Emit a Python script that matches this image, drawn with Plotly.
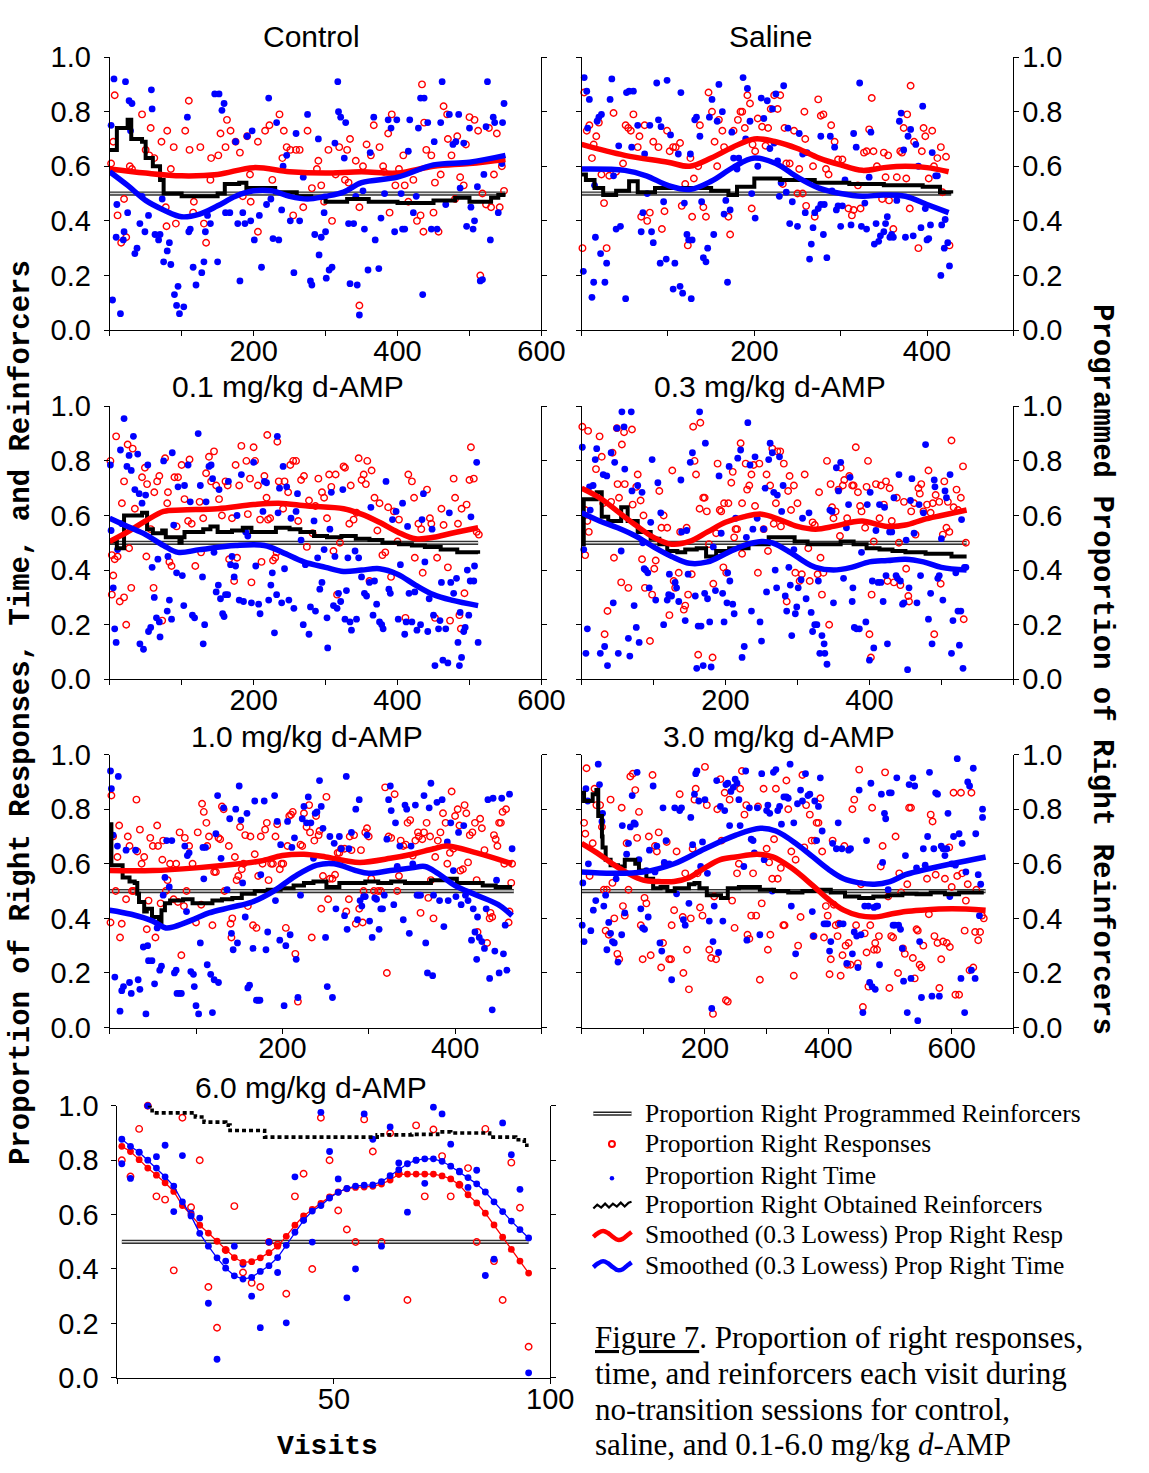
import plotly.graph_objects as go

# ======================= DATA =======================
# ---- Control ----
ctrl_resp_x = [2, 7, 5, 11, 16, 23, 20, 28, 31, 45,
    50, 57, 55, 62, 72, 80, 78, 79, 85, 89,
    92, 105, 110, 111, 116, 117, 126, 131, 134, 141,
    151, 154, 161, 163, 168, 175, 181, 185, 191, 196,
    206, 206, 216, 222, 226, 236, 242, 246, 251, 255,
    259, 264, 269, 275, 281, 288, 294, 298, 304, 309,
    314, 319, 327, 332, 334, 342, 347, 347, 352, 357,
    363, 367, 375, 381, 387, 389, 392, 397, 402, 408,
    415, 422, 427, 432, 434, 436, 437, 440, 447, 450,
    452, 457, 460, 464, 469, 475, 480, 483, 487, 492,
    500, 507, 512, 515, 518, 523, 527, 530, 534, 538,
    542, 548, 140, 195, 240, 290, 330, 380, 410, 470,
    495, 545]
ctrl_resp_y = [0.61, 0.86, 0.69, 0.42, 0.32, 0.34, 0.48, 0.60, 0.59, 0.79,
    0.66, 0.74, 0.64, 0.63, 0.69, 0.73, 0.45, 0.38, 0.59, 0.67,
    0.39, 0.73, 0.84, 0.66, 0.43, 0.47, 0.67, 0.39, 0.32, 0.63,
    0.64, 0.72, 0.67, 0.77, 0.73, 0.69, 0.65, 0.49, 0.71, 0.47,
    0.36, 0.69, 0.73, 0.75, 0.55, 0.79, 0.73, 0.67, 0.66, 0.42,
    0.66, 0.66, 0.45, 0.73, 0.52, 0.59, 0.53, 0.47, 0.66, 0.40,
    0.57, 0.67, 0.55, 0.54, 0.70, 0.62, 0.45, 0.09, 0.60, 0.68,
    0.64, 0.75, 0.67, 0.58, 0.72, 0.43, 0.79, 0.53, 0.59, 0.64,
    0.47, 0.55, 0.40, 0.42, 0.90, 0.36, 0.76, 0.66, 0.64, 0.43,
    0.54, 0.36, 0.57, 0.82, 0.79, 0.64, 0.48, 0.71, 0.56, 0.53,
    0.78, 0.77, 0.73, 0.20, 0.50, 0.46, 0.74, 0.45, 0.57, 0.72,
    0.45, 0.51, 0.55, 0.57, 0.63, 0.62, 0.66, 0.60, 0.53, 0.70,
    0.68, 0.60]
ctrl_time_x = [2, 4, 6, 9, 10, 15, 19, 20, 22, 25,
    27, 29, 31, 35, 38, 42, 45, 49, 54, 58,
    59, 63, 68, 70, 73, 75, 80, 83, 85, 90,
    93, 95, 97, 103, 108, 110, 112, 116, 120, 128,
    131, 133, 136, 140, 146, 150, 152, 156, 159, 161,
    167, 175, 178, 181, 185, 188, 191, 196, 198, 201,
    208, 211, 218, 221, 224, 227, 232, 235, 239, 241,
    246, 251, 256, 259, 264, 269, 275, 279, 281, 285,
    290, 291, 294, 298, 300, 301, 305, 309, 313, 317,
    318, 321, 326, 328, 332, 334, 339, 342, 344, 347,
    352, 354, 359, 362, 367, 369, 374, 377, 382, 387,
    391, 396, 399, 405, 407, 410, 415, 417, 422, 426,
    429, 432, 435, 437, 442, 447, 451, 455, 460, 462,
    467, 472, 477, 481, 485, 487, 492, 496, 500, 502,
    505, 507, 511, 515, 518, 520, 523, 525, 529, 533,
    535, 540, 545, 548, 546]
ctrl_time_y = [0.75, 0.11, 0.92, 0.34, 0.46, 0.06, 0.33, 0.36, 0.91, 0.43,
    0.84, 0.73, 0.83, 0.28, 0.30, 0.39, 0.49, 0.36, 0.42, 0.88,
    0.81, 0.35, 0.33, 0.35, 0.48, 0.25, 0.29, 0.32, 0.24, 0.13,
    0.09, 0.16, 0.06, 0.085, 0.78, 0.36, 0.37, 0.23, 0.165, 0.21,
    0.25, 0.36, 0.42, 0.39, 0.865, 0.25, 0.865, 0.805, 0.83, 0.43,
    0.43, 0.69, 0.39, 0.18, 0.43, 0.39, 0.71, 0.40, 0.73, 0.33,
    0.42, 0.23, 0.46, 0.85, 0.48, 0.335, 0.76, 0.33, 0.44, 0.60,
    0.64, 0.40, 0.21, 0.72, 0.40, 0.56, 0.79, 0.18, 0.165, 0.35,
    0.70, 0.275, 0.34, 0.43, 0.36, 0.19, 0.22, 0.23, 0.685, 0.91,
    0.80, 0.78, 0.63, 0.76, 0.39, 0.17, 0.39, 0.49, 0.165, 0.055,
    0.51, 0.37, 0.22, 0.65, 0.78, 0.33, 0.225, 0.41, 0.50, 0.77,
    0.74, 0.36, 0.77, 0.50, 0.37, 0.37, 0.655, 0.77, 0.43, 0.49,
    0.74, 0.85, 0.13, 0.85, 0.76, 0.37, 0.69, 0.37, 0.76, 0.91,
    0.46, 0.79, 0.68, 0.69, 0.79, 0.52, 0.685, 0.38, 0.74, 0.45,
    0.37, 0.40, 0.525, 0.18, 0.185, 0.57, 0.745, 0.91, 0.33, 0.78,
    0.76, 0.43, 0.61, 0.83, 0.76]
ctrl_sresp_x = [0, 50, 100, 150, 200, 250, 300, 350, 400, 450, 500, 550]
ctrl_sresp_y = [0.59, 0.575, 0.565, 0.57, 0.595, 0.58, 0.575, 0.58, 0.575, 0.60, 0.61, 0.625]
ctrl_stime_x = [0, 25, 50, 75, 100, 125, 150, 175, 200, 225, 250, 275, 300, 325, 350, 400, 450, 500, 550]
ctrl_stime_y = [0.58, 0.53, 0.475, 0.44, 0.415, 0.425, 0.455, 0.49, 0.51, 0.51, 0.49, 0.48, 0.49, 0.505, 0.54, 0.56, 0.605, 0.615, 0.64]
ctrl_obt_x = [0, 10, 25, 30, 45, 50, 60, 70, 75, 100, 150, 160, 180, 190, 230, 260, 280, 300, 330, 360, 400, 450, 480, 500, 530, 540, 550]
ctrl_obt_y = [0.66, 0.74, 0.77, 0.70, 0.69, 0.63, 0.60, 0.55, 0.50, 0.49, 0.50, 0.535, 0.54, 0.52, 0.505, 0.49, 0.485, 0.47, 0.48, 0.47, 0.465, 0.475, 0.485, 0.47, 0.485, 0.495, 0.495]
ctrl_last_visit = 550

# ---- Saline ----
sal_resp_x = [1, 3, 6, 9, 12, 14, 17, 20, 23, 26,
    29, 32, 37, 40, 48, 51, 54, 57, 60, 65,
    67, 69, 73, 76, 79, 83, 89, 93, 96, 99,
    102, 106, 109, 114, 116, 120, 123, 126, 128, 130,
    135, 137, 141, 144, 147, 151, 154, 157, 159, 163,
    165, 170, 172, 176, 181, 184, 186, 189, 192, 195,
    197, 198, 201, 204, 209, 213, 216, 219, 223, 227,
    230, 233, 235, 237, 241, 246, 250, 252, 256, 258,
    259, 260, 268, 270, 274, 277, 280, 283, 286, 289,
    293, 297, 302, 309, 313, 315, 320, 323, 327, 330,
    333, 336, 338, 342, 348, 350, 352, 355, 356, 361,
    365, 369, 371, 373, 376, 377, 380, 381, 385, 390,
    394, 396, 398, 402, 406, 408, 412, 416, 418, 422,
    426]
sal_resp_y = [0.30, 0.87, 0.73, 0.75, 0.63, 0.68, 0.71, 0.76, 0.57, 0.465,
    0.30, 0.565, 0.795, 0.58, 0.61, 0.75, 0.74, 0.73, 0.79, 0.67,
    0.71, 0.415, 0.75, 0.40, 0.43, 0.69, 0.67, 0.37, 0.435, 0.73,
    0.655, 0.67, 0.67, 0.685, 0.455, 0.535, 0.31, 0.63, 0.415, 0.555,
    0.60, 0.75, 0.45, 0.415, 0.87, 0.80, 0.69, 0.60, 0.77, 0.73,
    0.67, 0.415, 0.35, 0.73, 0.77, 0.80, 0.80, 0.74, 0.86, 0.83,
    0.445, 0.68, 0.655, 0.775, 0.745, 0.675, 0.74, 0.81, 0.86, 0.81,
    0.86, 0.535, 0.74, 0.61, 0.61, 0.73, 0.50, 0.59, 0.50, 0.80,
    0.70, 0.455, 0.60, 0.415, 0.845, 0.785, 0.79, 0.59, 0.57, 0.75,
    0.69, 0.625, 0.625, 0.445, 0.42, 0.44, 0.53, 0.445, 0.65, 0.655,
    0.735, 0.85, 0.655, 0.60, 0.48, 0.65, 0.56, 0.64, 0.475, 0.37,
    0.56, 0.655, 0.65, 0.74, 0.555, 0.79, 0.445, 0.895, 0.69, 0.30,
    0.655, 0.74, 0.71, 0.555, 0.73, 0.60, 0.63, 0.67, 0.505, 0.635,
    0.31]
sal_time_x = [3, 2, 6, 7, 9, 12, 14, 15, 16, 18,
    20, 23, 22, 27, 29, 33, 35, 37, 40, 43,
    45, 51, 52, 55, 58, 60, 65, 69, 71, 73,
    76, 79, 81, 83, 87, 89, 92, 91, 95, 98,
    99, 103, 106, 108, 112, 114, 115, 117, 119, 122,
    124, 126, 127, 128, 131, 133, 137, 139, 141, 144,
    146, 148, 151, 153, 157, 159, 163, 165, 167, 169,
    172, 174, 176, 180, 182, 187, 190, 192, 195, 197,
    201, 204, 208, 211, 215, 218, 221, 223, 225, 227,
    229, 231, 234, 237, 239, 241, 244, 250, 252, 256,
    259, 261, 264, 266, 268, 270, 274, 277, 277, 280,
    281, 284, 288, 290, 293, 295, 297, 300, 302, 305,
    312, 315, 318, 322, 324, 328, 330, 333, 335, 339,
    341, 344, 346, 350, 352, 354, 357, 359, 361, 365,
    368, 370, 373, 375, 378, 381, 384, 387, 390, 393,
    395, 398, 400, 402, 404, 406, 410, 412, 416, 417,
    420, 421, 424, 426]
sal_time_y = [0.925, 0.215, 0.875, 0.74, 0.845, 0.12, 0.175, 0.53, 0.34, 0.765,
    0.78, 0.79, 0.28, 0.175, 0.245, 0.845, 0.92, 0.565, 0.37, 0.675,
    0.38, 0.115, 0.87, 0.875, 0.67, 0.875, 0.75, 0.36, 0.43, 0.645,
    0.50, 0.75, 0.36, 0.32, 0.905, 0.77, 0.745, 0.245, 0.47, 0.26,
    0.915, 0.715, 0.15, 0.245, 0.645, 0.16, 0.87, 0.135, 0.465, 0.35,
    0.33, 0.645, 0.115, 0.33, 0.77, 0.78, 0.71, 0.47, 0.265, 0.25,
    0.30, 0.78, 0.845, 0.35, 0.765, 0.90, 0.80, 0.425, 0.475, 0.175,
    0.44, 0.725, 0.63, 0.59, 0.63, 0.925, 0.70, 0.885, 0.765, 0.50,
    0.41, 0.60, 0.85, 0.775, 0.84, 0.665, 0.81, 0.685, 0.865, 0.62,
    0.49, 0.54, 0.895, 0.505, 0.74, 0.39, 0.47, 0.38, 0.72, 0.645,
    0.43, 0.65, 0.26, 0.315, 0.375, 0.43, 0.445, 0.71, 0.46, 0.35,
    0.46, 0.265, 0.71, 0.51, 0.67, 0.44, 0.455, 0.38, 0.455, 0.55,
    0.385, 0.72, 0.67, 0.905, 0.38, 0.465, 0.37, 0.56, 0.725, 0.315,
    0.39, 0.325, 0.345, 0.36, 0.39, 0.415, 0.34, 0.35, 0.34, 0.475,
    0.765, 0.795, 0.66, 0.34, 0.71, 0.735, 0.345, 0.68, 0.60, 0.375,
    0.82, 0.445, 0.33, 0.335, 0.385, 0.65, 0.565, 0.565, 0.20, 0.385,
    0.30, 0.405, 0.32, 0.235]
sal_sresp_x = [0, 50, 100, 125, 150, 175, 200, 225, 250, 275, 300, 325, 350, 375, 400, 425]
sal_sresp_y = [0.68, 0.64, 0.615, 0.60, 0.63, 0.67, 0.70, 0.69, 0.665, 0.63, 0.605, 0.585, 0.595, 0.60, 0.595, 0.58]
sal_stime_x = [0, 50, 75, 100, 125, 150, 175, 200, 225, 250, 275, 300, 325, 350, 375, 400, 425]
sal_stime_y = [0.59, 0.585, 0.565, 0.53, 0.515, 0.545, 0.595, 0.63, 0.61, 0.56, 0.52, 0.50, 0.49, 0.495, 0.49, 0.46, 0.43]
sal_obt_x = [0, 5, 15, 25, 40, 55, 65, 85, 150, 170, 180, 200, 230, 270, 310, 350, 395, 415, 428]
sal_obt_y = [0.57, 0.55, 0.52, 0.495, 0.51, 0.545, 0.505, 0.52, 0.51, 0.495, 0.525, 0.555, 0.55, 0.54, 0.535, 0.53, 0.525, 0.505, 0.50]
sal_last_visit = 428

# ---- 0.1 mg/kg ----
d01_resp_x = [1, 3, 5, 3, 9, 7, 11, 14, 17, 20,
    20, 23, 25, 27, 30, 32, 35, 45, 49, 51,
    52, 57, 61, 62, 66, 69, 73, 77, 80, 81,
    83, 86, 90, 93, 95, 100, 104, 109, 111, 114,
    119, 125, 127, 130, 134, 138, 141, 145, 148, 152,
    156, 161, 164, 166, 170, 173, 175, 177, 180, 183,
    190, 192, 195, 197, 200, 202, 206, 209, 211, 215,
    218, 219, 220, 223, 227, 230, 232, 233, 235, 241,
    243, 248, 251, 255, 259, 262, 266, 270, 274, 277,
    282, 286, 290, 295, 298, 302, 305, 308, 311, 314,
    316, 320, 325, 327, 333, 335, 339, 343, 346, 350,
    353, 356, 358, 361, 364, 368, 372, 375, 379, 383,
    387, 391, 395, 400, 402, 411, 415, 420, 423, 424,
    429, 433, 435, 441, 445, 447, 452, 455, 461, 464,
    470, 473, 478, 480, 484, 489, 493, 496, 500, 502,
    506, 510, 513, 486, 488]
d01_resp_y = [0.80, 0.455, 0.38, 0.31, 0.89, 0.44, 0.45, 0.285, 0.645, 0.30,
    0.725, 0.20, 0.86, 0.48, 0.335, 0.845, 0.625, 0.74, 0.775, 0.45,
    0.715, 0.55, 0.335, 0.685, 0.725, 0.745, 0.215, 0.81, 0.645, 0.685,
    0.43, 0.415, 0.74, 0.56, 0.74, 0.785, 0.66, 0.58, 0.805, 0.57,
    0.415, 0.65, 0.465, 0.59, 0.755, 0.815, 0.725, 0.835, 0.71, 0.66,
    0.60, 0.725, 0.71, 0.44, 0.59, 0.36, 0.785, 0.445, 0.71, 0.855,
    0.80, 0.605, 0.735, 0.355, 0.85, 0.80, 0.71, 0.585, 0.43, 0.745,
    0.665, 0.895, 0.585, 0.59, 0.435, 0.445, 0.465, 0.87, 0.725, 0.625,
    0.725, 0.685, 0.785, 0.80, 0.80, 0.58, 0.73, 0.745, 0.485, 0.655,
    0.535, 0.635, 0.735, 0.685, 0.665, 0.59, 0.75, 0.705, 0.47, 0.75,
    0.31, 0.50, 0.78, 0.775, 0.57, 0.71, 0.585, 0.61, 0.81, 0.73,
    0.75, 0.715, 0.80, 0.36, 0.765, 0.665, 0.545, 0.645, 0.455, 0.465,
    0.63, 0.375, 0.615, 0.505, 0.585, 0.225, 0.75, 0.725, 0.665, 0.445,
    0.57, 0.55, 0.39, 0.695, 0.59, 0.57, 0.225, 0.445, 0.625, 0.565,
    0.41, 0.215, 0.735, 0.665, 0.57, 0.625, 0.315, 0.64, 0.73, 0.85,
    0.735, 0.54, 0.53, 0.235, 0.185]
d01_time_x = [1, 2, 5, 7, 9, 11, 15, 17, 20, 24,
    27, 30, 33, 35, 39, 41, 42, 45, 47, 50,
    53, 54, 57, 59, 62, 65, 67, 69, 70, 75,
    80, 81, 83, 86, 87, 89, 93, 95, 101, 103,
    104, 109, 112, 115, 118, 123, 126, 129, 130, 132,
    134, 138, 141, 143, 145, 148, 151, 152, 154, 157,
    159, 161, 164, 165, 168, 170, 173, 175, 177, 180,
    183, 186, 189, 192, 197, 200, 203, 207, 209, 213,
    215, 218, 221, 224, 226, 229, 232, 233, 234, 236,
    239, 241, 243, 246, 249, 252, 256, 259, 261, 266,
    269, 272, 277, 279, 284, 286, 289, 292, 295, 298,
    302, 303, 306, 308, 311, 313, 316, 318, 321, 324,
    327, 329, 331, 334, 336, 341, 343, 346, 350, 354,
    357, 361, 363, 366, 368, 371, 375, 378, 380, 384,
    388, 390, 393, 398, 401, 404, 407, 410, 412, 414,
    416, 420, 424, 427, 432, 434, 436, 438, 442, 444,
    448, 450, 452, 457, 459, 461, 463, 467, 470, 472,
    474, 478, 482, 484, 486, 487, 489, 492, 494, 497,
    499, 501, 502, 506, 507, 510, 512]
d01_time_y = [0.785, 0.545, 0.335, 0.185, 0.135, 0.475, 0.84, 0.57, 0.955, 0.78,
    0.82, 0.765, 0.89, 0.695, 0.825, 0.68, 0.13, 0.645, 0.11, 0.675,
    0.785, 0.175, 0.19, 0.41, 0.30, 0.225, 0.44, 0.21, 0.155, 0.80,
    0.25, 0.45, 0.29, 0.22, 0.83, 0.565, 0.39, 0.705, 0.38, 0.27,
    0.71, 0.785, 0.65, 0.235, 0.225, 0.90, 0.71, 0.375, 0.13, 0.20,
    0.65, 0.78, 0.785, 0.735, 0.465, 0.32, 0.345, 0.695, 0.295, 0.24,
    0.23, 0.31, 0.31, 0.725, 0.42, 0.45, 0.375, 0.415, 0.60, 0.29,
    0.75, 0.285, 0.54, 0.525, 0.28, 0.795, 0.415, 0.275, 0.24, 0.615,
    0.725, 0.72, 0.29, 0.345, 0.39, 0.17, 0.31, 0.89, 0.61, 0.70,
    0.28, 0.78, 0.405, 0.705, 0.29, 0.59, 0.26, 0.615, 0.68, 0.51,
    0.20, 0.42, 0.165, 0.265, 0.58, 0.25, 0.445, 0.33, 0.355, 0.475,
    0.225, 0.115, 0.55, 0.685, 0.27, 0.45, 0.26, 0.315, 0.285, 0.695,
    0.22, 0.325, 0.445, 0.21, 0.18, 0.47, 0.22, 0.445, 0.375, 0.315,
    0.305, 0.355, 0.63, 0.235, 0.36, 0.275, 0.21, 0.20, 0.185, 0.725,
    0.33, 0.315, 0.585, 0.615, 0.22, 0.42, 0.645, 0.165, 0.21, 0.56,
    0.315, 0.21, 0.32, 0.18, 0.20, 0.585, 0.68, 0.43, 0.175, 0.295,
    0.55, 0.235, 0.05, 0.185, 0.215, 0.355, 0.07, 0.185, 0.06, 0.61,
    0.355, 0.315, 0.37, 0.135, 0.05, 0.245, 0.08, 0.175, 0.19, 0.40,
    0.235, 0.36, 0.595, 0.36, 0.415, 0.795, 0.135]
d01_sresp_x = [0, 25, 50, 75, 100, 150, 200, 235, 275, 325, 350, 375, 400, 425, 450, 475, 512]
d01_sresp_y = [0.505, 0.54, 0.58, 0.615, 0.62, 0.625, 0.64, 0.645, 0.635, 0.625, 0.605, 0.575, 0.54, 0.515, 0.52, 0.535, 0.555]
d01_stime_x = [0, 25, 50, 75, 95, 125, 175, 215, 240, 270, 300, 325, 350, 375, 400, 425, 450, 475, 512]
d01_stime_y = [0.59, 0.56, 0.53, 0.49, 0.465, 0.475, 0.49, 0.49, 0.465, 0.43, 0.41, 0.395, 0.40, 0.405, 0.385, 0.345, 0.31, 0.29, 0.27]
d01_obt_x = [0, 10, 20, 45, 52, 60, 73, 78, 97, 100, 104, 130, 140, 150, 170, 185, 197, 231, 250, 265, 284, 302, 322, 342, 361, 379, 402, 420, 438, 460, 483, 512]
d01_obt_y = [0.505, 0.48, 0.60, 0.61, 0.55, 0.535, 0.545, 0.52, 0.50, 0.52, 0.54, 0.55, 0.56, 0.54, 0.545, 0.555, 0.54, 0.555, 0.55, 0.54, 0.525, 0.52, 0.525, 0.515, 0.51, 0.50, 0.495, 0.49, 0.485, 0.475, 0.465, 0.46]
d01_last_visit = 512

# ---- 0.3 mg/kg ----
d03_resp_x = [1, 9, 5, 8, 5, 10, 20, 25, 28, 30,
    32, 36, 41, 43, 45, 50, 49, 52, 55, 56,
    59, 60, 65, 70, 71, 76, 78, 82, 84, 86,
    88, 95, 98, 101, 103, 108, 111, 114, 119, 122,
    126, 128, 130, 135, 137, 142, 144, 148, 146, 153,
    155, 157, 159, 162, 164, 165, 169, 171, 174, 177,
    182, 183, 187, 189, 192, 194, 197, 198, 201, 204,
    208, 210, 212, 214, 216, 221, 223, 223, 228, 230,
    233, 236, 239, 241, 245, 247, 253, 257, 259, 262,
    265, 267, 270, 272, 276, 277, 281, 285, 287, 289,
    291, 295, 297, 300, 303, 306, 310, 315, 317, 321,
    324, 328, 330, 332, 334, 336, 341, 344, 346, 348,
    350, 353, 357, 359, 360, 363, 365, 369, 372, 376,
    378, 381, 384, 387, 389, 394, 396, 398, 400, 402,
    403, 406, 409, 414, 416, 420, 423, 425, 428, 431,
    434, 438, 441, 443, 448, 451, 454, 455, 458, 462,
    464, 468, 470, 472, 475, 480, 482, 485, 488, 490,
    492, 497, 499, 502, 504, 507, 509, 511, 514, 517,
    521, 523, 527, 530, 531, 534]
d03_resp_y = [0.925, 0.91, 0.62, 0.58, 0.455, 0.54, 0.77, 0.89, 0.815, 0.645,
    0.165, 0.25, 0.65, 0.83, 0.445, 0.715, 0.92, 0.665, 0.355, 0.86,
    0.905, 0.715, 0.335, 0.915, 0.64, 0.705, 0.75, 0.655, 0.44, 0.60,
    0.335, 0.14, 0.31, 0.405, 0.435, 0.69, 0.555, 0.60, 0.555, 0.235,
    0.765, 0.36, 0.335, 0.39, 0.54, 0.255, 0.27, 0.31, 0.555, 0.385,
    0.925, 0.80, 0.75, 0.09, 0.625, 0.94, 0.665, 0.665, 0.615, 0.495,
    0.08, 0.35, 0.535, 0.79, 0.62, 0.615, 0.41, 0.645, 0.39, 0.645,
    0.72, 0.76, 0.52, 0.55, 0.55, 0.865, 0.46, 0.645, 0.79, 0.695,
    0.71, 0.75, 0.785, 0.635, 0.39, 0.79, 0.55, 0.75, 0.47, 0.71,
    0.845, 0.57, 0.645, 0.835, 0.835, 0.56, 0.79, 0.285, 0.69, 0.745,
    0.62, 0.71, 0.39, 0.645, 0.36, 0.385, 0.75, 0.48, 0.36, 0.575,
    0.565, 0.385, 0.685, 0.445, 0.31, 0.39, 0.80, 0.20, 0.715, 0.63,
    0.59, 0.615, 0.695, 0.525, 0.775, 0.71, 0.73, 0.59, 0.745, 0.71,
    0.71, 0.85, 0.685, 0.635, 0.615, 0.555, 0.705, 0.80, 0.165, 0.08,
    0.31, 0.505, 0.715, 0.59, 0.71, 0.64, 0.725, 0.36, 0.70, 0.58,
    0.355, 0.665, 0.50, 0.345, 0.65, 0.405, 0.305, 0.285, 0.615, 0.645,
    0.53, 0.70, 0.68, 0.715, 0.615, 0.64, 0.765, 0.61, 0.645, 0.165,
    0.675, 0.65, 0.35, 0.53, 0.725, 0.555, 0.65, 0.54, 0.875, 0.63,
    0.695, 0.62, 0.665, 0.78, 0.22, 0.50]
d03_time_x = [1, 3, 6, 8, 11, 12, 16, 19, 21, 26,
    30, 32, 36, 35, 41, 44, 46, 49, 51, 55,
    56, 59, 60, 65, 67, 69, 70, 73, 76, 78,
    80, 84, 85, 87, 89, 92, 94, 96, 98, 103,
    106, 110, 114, 119, 121, 122, 125, 130, 132, 135,
    138, 139, 144, 146, 148, 151, 154, 158, 160, 162,
    164, 166, 169, 171, 172, 175, 178, 180, 183, 186,
    191, 194, 196, 198, 202, 203, 205, 206, 210, 212,
    214, 217, 221, 223, 226, 229, 231, 234, 236, 238,
    241, 244, 248, 250, 253, 255, 257, 260, 262, 265,
    267, 269, 271, 272, 275, 278, 280, 283, 285, 288,
    290, 292, 295, 297, 299, 301, 305, 307, 312, 316,
    319, 321, 324, 327, 329, 331, 334, 337, 338, 341,
    345, 348, 350, 354, 357, 360, 364, 368, 371, 373,
    376, 377, 379, 382, 386, 389, 395, 397, 400, 401,
    404, 406, 409, 412, 414, 416, 419, 421, 423, 425,
    428, 431, 434, 437, 439, 441, 443, 446, 448, 451,
    453, 455, 459, 457, 462, 466, 469, 471, 475, 478,
    482, 485, 487, 490, 491, 495, 497, 500, 502, 505,
    507, 512, 514, 516, 520, 523, 525, 527, 528, 530,
    532, 534]
d03_time_y = [0.85, 0.475, 0.095, 0.185, 0.705, 0.62, 0.71, 0.805, 0.845, 0.095,
    0.75, 0.12, 0.05, 0.745, 0.83, 0.28, 0.795, 0.92, 0.095, 0.47,
    0.98, 0.925, 0.77, 0.15, 0.085, 0.98, 0.69, 0.27, 0.19, 0.71,
    0.135, 0.685, 0.50, 0.405, 0.40, 0.39, 0.335, 0.575, 0.805, 0.29,
    0.72, 0.61, 0.20, 0.29, 0.31, 0.385, 0.305, 0.355, 0.335, 0.285,
    0.73, 0.54, 0.215, 0.545, 0.385, 0.795, 0.83, 0.305, 0.04, 0.195,
    0.98, 0.195, 0.05, 0.315, 0.865, 0.295, 0.21, 0.045, 0.485, 0.325,
    0.745, 0.535, 0.315, 0.21, 0.28, 0.39, 0.78, 0.36, 0.275, 0.24,
    0.59, 0.81, 0.84, 0.08, 0.12, 0.52, 0.94, 0.785, 0.25, 0.55,
    0.815, 0.59, 0.21, 0.14, 0.55, 0.70, 0.32, 0.805, 0.865, 0.83,
    0.685, 0.40, 0.335, 0.675, 0.815, 0.615, 0.71, 0.305, 0.25, 0.41,
    0.345, 0.16, 0.475, 0.24, 0.265, 0.335, 0.365, 0.59, 0.295, 0.61,
    0.245, 0.175, 0.20, 0.20, 0.36, 0.095, 0.16, 0.13, 0.095, 0.055,
    0.62, 0.615, 0.28, 0.775, 0.69, 0.795, 0.37, 0.555, 0.64, 0.74,
    0.285, 0.335, 0.19, 0.185, 0.185, 0.465, 0.21, 0.64, 0.07, 0.685,
    0.36, 0.115, 0.545, 0.355, 0.64, 0.355, 0.285, 0.63, 0.38, 0.13,
    0.54, 0.54, 0.665, 0.38, 0.37, 0.75, 0.36, 0.275, 0.28, 0.51,
    0.035, 0.335, 0.735, 0.655, 0.535, 0.28, 0.64, 0.38, 0.61, 0.86,
    0.22, 0.315, 0.13, 0.73, 0.705, 0.37, 0.38, 0.515, 0.29, 0.69,
    0.665, 0.75, 0.095, 0.215, 0.39, 0.25, 0.125, 0.25, 0.585, 0.04,
    0.41, 0.41]
d03_sresp_x = [0, 25, 50, 75, 100, 125, 150, 175, 200, 225, 250, 275, 300, 325, 350, 375, 390, 425, 450, 475, 500, 535]
d03_sresp_y = [0.70, 0.665, 0.615, 0.565, 0.52, 0.495, 0.505, 0.54, 0.575, 0.595, 0.605, 0.585, 0.56, 0.55, 0.56, 0.575, 0.58, 0.56, 0.565, 0.585, 0.60, 0.62]
d03_stime_x = [0, 25, 50, 75, 100, 125, 150, 175, 200, 225, 250, 265, 290, 310, 325, 350, 375, 400, 425, 450, 475, 500, 535]
d03_stime_y = [0.61, 0.58, 0.555, 0.525, 0.485, 0.45, 0.425, 0.43, 0.46, 0.49, 0.505, 0.50, 0.465, 0.43, 0.41, 0.40, 0.41, 0.43, 0.435, 0.44, 0.43, 0.41, 0.40]
d03_obt_x = [0, 3, 11, 21, 28, 37, 55, 64, 78, 96, 108, 119, 133, 144, 160, 173, 187, 205, 232, 260, 296, 314, 360, 378, 396, 414, 432, 450, 478, 514, 535]
d03_obt_y = [0.495, 0.66, 0.66, 0.685, 0.595, 0.58, 0.63, 0.58, 0.54, 0.515, 0.495, 0.47, 0.465, 0.475, 0.48, 0.45, 0.47, 0.48, 0.495, 0.52, 0.505, 0.495, 0.505, 0.495, 0.48, 0.475, 0.47, 0.465, 0.46, 0.45, 0.45]
d03_last_visit = 535

# ---- 1.0 mg/kg ----
d10_resp_x = [2, 4, 1, 7, 9, 11, 12, 14, 19, 21,
    23, 26, 28, 31, 32, 35, 37, 40, 43, 45,
    47, 50, 53, 55, 56, 59, 61, 62, 65, 67,
    70, 74, 77, 79, 81, 83, 86, 87, 89, 92,
    96, 100, 102, 106, 107, 109, 112, 113, 115, 119,
    121, 123, 126, 128, 130, 132, 133, 138, 140, 141,
    142, 145, 147, 149, 151, 153, 155, 157, 160, 163,
    166, 168, 170, 172, 175, 177, 180, 182, 184, 187,
    189, 192, 194, 197, 199, 201, 204, 206, 208, 210,
    212, 215, 218, 221, 223, 225, 228, 231, 232, 234,
    237, 239, 242, 243, 245, 247, 251, 253, 255, 258,
    261, 264, 266, 268, 272, 274, 277, 278, 280, 283,
    285, 289, 291, 293, 294, 296, 298, 300, 303, 306,
    311, 314, 319, 321, 323, 326, 330, 333, 335, 337,
    340, 343, 345, 348, 351, 354, 357, 358, 360, 362,
    364, 367, 369, 371, 372, 375, 377, 380, 383, 386,
    389, 391, 394, 396, 398, 400, 403, 405, 406, 409,
    411, 413, 415, 417, 420, 423, 425, 426, 429, 431,
    434, 437, 440, 441, 443, 445, 447, 449, 451, 453,
    455, 457, 459, 462, 463, 465, 466]
d10_resp_y = [0.85, 0.70, 0.385, 0.50, 0.625, 0.74, 0.33, 0.38, 0.47, 0.70,
    0.665, 0.50, 0.50, 0.835, 0.645, 0.725, 0.60, 0.625, 0.36, 0.465,
    0.695, 0.665, 0.33, 0.74, 0.665, 0.455, 0.615, 0.685, 0.50, 0.54,
    0.60, 0.47, 0.60, 0.46, 0.715, 0.265, 0.445, 0.695, 0.50, 0.665,
    0.60, 0.385, 0.715, 0.45, 0.82, 0.79, 0.75, 0.665, 0.70, 0.375,
    0.57, 0.57, 0.695, 0.69, 0.81, 0.80, 0.50, 0.665, 0.38, 0.33,
    0.40, 0.625, 0.54, 0.555, 0.735, 0.58, 0.60, 0.705, 0.445, 0.70,
    0.375, 0.635, 0.365, 0.555, 0.70, 0.60, 0.725, 0.75, 0.54, 0.60,
    0.60, 0.70, 0.745, 0.58, 0.60, 0.60, 0.365, 0.665, 0.775, 0.78,
    0.79, 0.27, 0.095, 0.67, 0.665, 0.785, 0.735, 0.815, 0.715, 0.33,
    0.685, 0.775, 0.705, 0.72, 0.435, 0.555, 0.845, 0.47, 0.545, 0.545,
    0.56, 0.64, 0.64, 0.655, 0.655, 0.425, 0.47, 0.70, 0.65, 0.705,
    0.38, 0.435, 0.65, 0.385, 0.50, 0.715, 0.73, 0.70, 0.545, 0.50,
    0.50, 0.50, 0.88, 0.20, 0.70, 0.695, 0.855, 0.50, 0.555, 0.685,
    0.665, 0.67, 0.75, 0.76, 0.63, 0.685, 0.715, 0.70, 0.42, 0.69,
    0.715, 0.75, 0.475, 0.70, 0.54, 0.40, 0.625, 0.685, 0.715, 0.785,
    0.75, 0.60, 0.64, 0.865, 0.655, 0.775, 0.80, 0.74, 0.575, 0.58,
    0.815, 0.785, 0.605, 0.705, 0.715, 0.75, 0.54, 0.35, 0.765, 0.73,
    0.65, 0.31, 0.40, 0.42, 0.405, 0.705, 0.69, 0.665, 0.75, 0.75,
    0.79, 0.60, 0.80, 0.385, 0.425, 0.53, 0.60]
d10_time_x = [1, 2, 4, 6, 9, 10, 12, 14, 16, 19,
    23, 25, 30, 33, 35, 39, 42, 44, 45, 49,
    52, 55, 58, 60, 62, 64, 66, 69, 72, 75,
    77, 78, 81, 83, 87, 89, 90, 92, 94, 97,
    98, 100, 103, 105, 108, 109, 111, 113, 117, 119,
    121, 123, 125, 126, 129, 132, 136, 139, 141, 143,
    146, 148, 150, 152, 154, 157, 159, 160, 162, 166,
    168, 170, 172, 174, 175, 179, 181, 183, 191, 192,
    194, 197, 198, 202, 204, 206, 209, 211, 214, 216,
    218, 221, 223, 225, 228, 230, 233, 236, 238, 240,
    243, 245, 247, 250, 252, 255, 258, 260, 262, 266,
    268, 272, 274, 275, 277, 280, 285, 287, 289, 290,
    292, 294, 296, 298, 301, 304, 307, 309, 312, 314,
    316, 318, 321, 323, 325, 326, 329, 331, 333, 336,
    340, 342, 344, 347, 349, 351, 354, 356, 358, 360,
    364, 366, 368, 370, 372, 374, 375, 379, 382, 385,
    387, 391, 392, 395, 398, 401, 404, 407, 410, 412,
    415, 419, 421, 423, 425, 426, 428, 431, 434, 436,
    438, 440, 443, 444, 446, 448, 451, 454, 456, 458,
    460, 463, 466]
d10_time_y = [0.94, 0.875, 0.705, 0.185, 0.665, 0.92, 0.06, 0.135, 0.15, 0.65,
    0.165, 0.125, 0.65, 0.175, 0.14, 0.295, 0.05, 0.30, 0.245, 0.245,
    0.16, 0.365, 0.21, 0.225, 0.485, 0.55, 0.685, 0.515, 0.685, 0.20,
    0.21, 0.125, 0.125, 0.125, 0.665, 0.425, 0.63, 0.64, 0.205, 0.195,
    0.15, 0.08, 0.05, 0.31, 0.66, 0.545, 0.66, 0.23, 0.195, 0.055,
    0.175, 0.71, 0.85, 0.165, 0.62, 0.805, 0.505, 0.765, 0.345, 0.285,
    0.80, 0.31, 0.885, 0.76, 0.53, 0.405, 0.785, 0.145, 0.155, 0.29,
    0.83, 0.10, 0.10, 0.10, 0.56, 0.83, 0.285, 0.35, 0.85, 0.465,
    0.755, 0.32, 0.67, 0.08, 0.30, 0.755, 0.34, 0.66, 0.695, 0.25,
    0.11, 0.485, 0.765, 0.81, 0.75, 0.845, 0.75, 0.62, 0.785, 0.79,
    0.905, 0.81, 0.73, 0.33, 0.15, 0.70, 0.11, 0.675, 0.435, 0.70,
    0.655, 0.41, 0.92, 0.36, 0.655, 0.715, 0.80, 0.395, 0.835, 0.465,
    0.445, 0.48, 0.48, 0.705, 0.39, 0.33, 0.475, 0.47, 0.36, 0.435,
    0.435, 0.485, 0.69, 0.835, 0.885, 0.795, 0.45, 0.75, 0.59, 0.665,
    0.395, 0.815, 0.80, 0.345, 0.665, 0.60, 0.815, 0.485, 0.485, 0.485,
    0.85, 0.31, 0.20, 0.805, 0.895, 0.19, 0.485, 0.825, 0.465, 0.835,
    0.37, 0.68, 0.465, 0.75, 0.575, 0.48, 0.715, 0.45, 0.74, 0.485,
    0.465, 0.32, 0.435, 0.35, 0.25, 0.405, 0.33, 0.315, 0.29, 0.435,
    0.835, 0.18, 0.065, 0.84, 0.28, 0.54, 0.20, 0.84, 0.27, 0.375,
    0.21, 0.855, 0.655]
d10_sresp_x = [0, 50, 100, 150, 175, 200, 225, 250, 275, 290, 325, 350, 375, 390, 425, 466]
d10_sresp_y = [0.575, 0.575, 0.585, 0.60, 0.61, 0.63, 0.635, 0.625, 0.61, 0.605, 0.62, 0.635, 0.655, 0.665, 0.64, 0.60]
d10_stime_x = [0, 25, 50, 65, 75, 100, 115, 140, 165, 190, 215, 240, 260, 285, 300, 325, 350, 365, 380, 400, 425, 450, 466]
d10_stime_y = [0.43, 0.415, 0.39, 0.365, 0.37, 0.40, 0.42, 0.44, 0.46, 0.50, 0.555, 0.595, 0.60, 0.575, 0.565, 0.575, 0.585, 0.59, 0.565, 0.52, 0.485, 0.45, 0.41]
d10_obt_x = [0, 2, 15, 23, 29, 32, 34, 40, 43, 49, 57, 60, 64, 70, 85, 96, 119, 130, 142, 153, 168, 183, 198, 213, 225, 236, 251, 266, 296, 311, 326, 342, 372, 387, 402, 432, 447, 466]
d10_obt_y = [0.745, 0.595, 0.55, 0.535, 0.53, 0.49, 0.46, 0.425, 0.435, 0.405, 0.385, 0.43, 0.455, 0.465, 0.47, 0.455, 0.465, 0.47, 0.475, 0.49, 0.50, 0.505, 0.51, 0.52, 0.53, 0.535, 0.515, 0.53, 0.535, 0.53, 0.535, 0.53, 0.54, 0.545, 0.53, 0.52, 0.515, 0.515]
d10_last_visit = 468

# ---- 3.0 mg/kg ----
d30_resp_x = [4, 8, 6, 13, 18, 21, 24, 30, 33, 36,
    39, 41, 44, 47, 50, 53, 58, 61, 65, 67,
    70, 73, 76, 79, 83, 87, 90, 93, 96, 99,
    102, 105, 109, 112, 115, 119, 122, 125, 129, 132,
    135, 138, 142, 145, 146, 150, 154, 159, 164, 165,
    168, 171, 174, 177, 180, 183, 185, 188, 192, 196,
    200, 203, 207, 210, 213, 215, 218, 220, 225, 227,
    232, 234, 237, 240, 244, 248, 252, 255, 257, 260,
    264, 267, 269, 272, 275, 278, 283, 286, 289, 292,
    295, 300, 302, 304, 306, 309, 312, 315, 318, 323,
    327, 329, 332, 335, 340, 344, 347, 351, 355, 358,
    361, 364, 370, 373, 376, 378, 381, 384, 387, 390,
    393, 396, 399, 402, 404, 407, 409, 412, 415, 417,
    420, 423, 426, 428, 431, 433, 436, 439, 442, 445,
    448, 450, 453, 456, 459, 462, 465, 468, 471, 474,
    476, 479, 482, 485, 488, 492, 497, 499, 502, 505,
    509, 513, 515, 518, 521, 524, 528, 531, 534, 537,
    540, 543, 545, 548, 551, 554, 560, 563, 566, 569,
    572, 574, 577, 580, 583, 586, 589, 592, 596, 597,
    600, 603, 606, 609, 612, 615, 617, 621, 623, 626,
    629, 632, 635, 638, 640, 643, 646, 649, 652]
d30_resp_y = [0.75, 0.95, 0.71, 0.555, 0.675, 0.875, 0.815, 0.815, 0.735, 0.505,
    0.355, 0.505, 0.34, 0.835, 0.53, 0.40, 0.27, 0.25, 0.805, 0.445,
    0.41, 0.675, 0.505, 0.92, 0.93, 0.87, 0.695, 0.79, 0.375, 0.25,
    0.475, 0.455, 0.70, 0.265, 0.925, 0.665, 0.645, 0.715, 0.22, 0.31,
    0.60, 0.68, 0.25, 0.25, 0.375, 0.43, 0.645, 0.855, 0.405, 0.20,
    0.565, 0.285, 0.14, 0.40, 0.655, 0.835, 0.875, 0.565, 0.44, 0.41,
    0.955, 0.815, 0.285, 0.255, 0.05, 0.48, 0.25, 0.80, 0.91, 0.685,
    0.86, 0.10, 0.095, 0.835, 0.465, 0.365, 0.565, 0.60, 0.875, 0.94,
    0.78, 0.815, 0.34, 0.325, 0.41, 0.565, 0.41, 0.81, 0.175, 0.455,
    0.875, 0.655, 0.285, 0.605, 0.34, 0.545, 0.69, 0.875, 0.545, 0.585,
    0.375, 0.375, 0.905, 0.80, 0.645, 0.19, 0.615, 0.30, 0.405, 0.925,
    0.66, 0.815, 0.78, 0.685, 0.335, 0.685, 0.75, 0.75, 0.84, 0.645,
    0.33, 0.445, 0.41, 0.195, 0.25, 0.685, 0.45, 0.375, 0.335, 0.38,
    0.19, 0.265, 0.665, 0.30, 0.23, 0.31, 0.23, 0.80, 0.835, 0.375,
    0.235, 0.945, 0.525, 0.075, 0.345, 0.275, 0.15, 0.375, 0.805, 0.285,
    0.31, 0.285, 0.335, 0.59, 0.665, 0.935, 0.48, 0.145, 0.335, 0.33,
    0.70, 0.20, 0.565, 0.495, 0.29, 0.27, 0.525, 0.805, 0.805, 0.255,
    0.18, 0.36, 0.355, 0.23, 0.22, 0.30, 0.545, 0.415, 0.78, 0.755,
    0.335, 0.56, 0.31, 0.145, 0.25, 0.315, 0.545, 0.31, 0.66, 0.295,
    0.515, 0.86, 0.12, 0.555, 0.12, 0.86, 0.565, 0.355, 0.465, 0.525,
    0.21, 0.86, 0.22, 0.35, 0.505, 0.32, 0.35, 0.41, 0.40]
d30_time_x = [1, 4, 2, 7, 10, 11, 15, 19, 23, 27,
    29, 33, 34, 36, 39, 41, 44, 47, 50, 53,
    56, 59, 65, 66, 70, 73, 76, 79, 82, 85,
    87, 90, 93, 96, 99, 102, 105, 108, 110, 116,
    119, 122, 127, 130, 132, 134, 137, 142, 146, 151,
    154, 159, 162, 165, 168, 174, 177, 180, 183, 185,
    187, 190, 193, 196, 200, 204, 207, 211, 213, 215,
    219, 222, 225, 229, 232, 234, 237, 240, 242, 246,
    249, 252, 255, 257, 263, 266, 268, 272, 275, 278,
    280, 285, 289, 292, 296, 300, 302, 305, 309, 311,
    315, 318, 321, 324, 328, 332, 335, 338, 340, 344,
    347, 350, 355, 358, 363, 367, 370, 374, 376, 378,
    381, 384, 387, 390, 393, 396, 399, 402, 404, 407,
    413, 416, 419, 422, 424, 430, 433, 436, 439, 442,
    446, 448, 450, 453, 456, 459, 462, 465, 467, 469,
    471, 474, 476, 478, 480, 483, 486, 488, 491, 493,
    497, 499, 502, 505, 508, 511, 514, 517, 520, 522,
    525, 528, 531, 534, 537, 540, 543, 545, 548, 551,
    554, 557, 561, 564, 568, 571, 574, 577, 580, 583,
    586, 589, 592, 594, 597, 600, 603, 606, 609, 612,
    615, 617, 621, 623, 626, 629, 632, 635, 638, 639,
    643, 645, 647, 650, 650]
d30_time_y = [0.375, 0.315, 0.53, 0.875, 0.83, 0.60, 0.355, 0.43, 0.465, 0.965,
    0.89, 0.755, 0.785, 0.445, 0.485, 0.285, 0.385, 0.345, 0.315, 0.31,
    0.545, 0.24, 0.34, 0.74, 0.42, 0.635, 0.675, 0.735, 0.85, 0.75,
    0.745, 0.935, 0.615, 0.435, 0.365, 0.36, 0.575, 0.405, 0.65, 0.885,
    0.57, 0.665, 0.31, 0.28, 0.805, 0.605, 0.685, 0.60, 0.175, 0.805,
    0.49, 0.795, 0.805, 0.395, 0.375, 0.455, 0.77, 0.67, 0.855, 0.93,
    0.94, 0.83, 0.59, 0.68, 0.835, 0.565, 0.39, 0.07, 0.315, 0.445,
    0.905, 0.275, 0.81, 0.39, 0.795, 0.89, 0.895, 0.74, 0.865, 0.88,
    0.91, 0.895, 0.835, 0.74, 0.59, 0.94, 0.32, 0.805, 0.69, 0.685,
    0.64, 0.805, 0.34, 0.93, 0.615, 0.795, 0.815, 0.785, 0.50, 0.935,
    0.945, 0.795, 0.81, 0.745, 0.845, 0.845, 0.84, 0.965, 0.445, 0.75,
    0.27, 0.82, 0.87, 0.83, 0.93, 0.85, 0.855, 0.425, 0.335, 0.83,
    0.685, 0.81, 0.915, 0.72, 0.38, 0.38, 0.38, 0.28, 0.315, 0.675,
    0.655, 0.75, 0.38, 0.655, 0.38, 0.235, 0.65, 0.655, 0.27, 0.35,
    0.335, 0.22, 0.87, 0.34, 0.055, 0.445, 0.685, 0.445, 0.165, 0.895,
    0.15, 0.44, 0.14, 0.445, 0.445, 0.23, 0.855, 0.605, 0.785, 0.765,
    0.505, 0.86, 0.86, 0.375, 0.375, 0.915, 0.375, 0.36, 0.29, 0.17,
    0.63, 0.055, 0.89, 0.18, 0.915, 0.885, 0.585, 0.025, 0.315, 0.11,
    0.655, 0.595, 0.70, 0.935, 0.115, 0.655, 0.86, 0.855, 0.115, 0.665,
    0.655, 0.63, 0.655, 0.785, 0.48, 0.60, 0.70, 0.595, 0.985, 0.71,
    0.18, 0.675, 0.055, 0.57, 0.90, 0.885, 0.21, 0.95, 0.18, 0.71,
    0.56, 0.41, 0.525, 0.80, 0.77]
d30_sresp_x = [0, 25, 50, 75, 100, 125, 150, 175, 200, 225, 250, 285, 310, 340, 375, 400, 425, 450, 475, 500, 525, 550, 600, 655]
d30_sresp_y = [0.675, 0.64, 0.60, 0.565, 0.54, 0.535, 0.535, 0.55, 0.585, 0.615, 0.625, 0.635, 0.625, 0.585, 0.52, 0.47, 0.43, 0.41, 0.405, 0.415, 0.425, 0.43, 0.435, 0.43]
d30_stime_x = [0, 50, 100, 150, 200, 250, 290, 315, 350, 375, 400, 425, 450, 475, 500, 525, 550, 600, 655]
d30_stime_y = [0.57, 0.565, 0.57, 0.60, 0.655, 0.705, 0.73, 0.72, 0.67, 0.625, 0.58, 0.545, 0.53, 0.525, 0.535, 0.56, 0.575, 0.60, 0.625]
d30_obt_x = [0, 4, 10, 18, 24, 27, 33, 34, 39, 47, 59, 70, 87, 93, 105, 116, 128, 139, 151, 174, 183, 191, 203, 226, 237, 255, 289, 312, 335, 358, 381, 404, 427, 450, 473, 497, 520, 543, 566, 589, 612, 652]
d30_obt_y = [0.86, 0.83, 0.83, 0.855, 0.87, 0.775, 0.70, 0.66, 0.615, 0.595, 0.59, 0.615, 0.60, 0.575, 0.545, 0.51, 0.515, 0.50, 0.51, 0.525, 0.53, 0.51, 0.485, 0.475, 0.51, 0.515, 0.505, 0.50, 0.495, 0.50, 0.505, 0.495, 0.48, 0.475, 0.48, 0.485, 0.49, 0.488, 0.495, 0.488, 0.495, 0.495]
d30_last_visit = 655

# ---- 6.0 mg/kg (visits 1..95, every second visit plotted) ----
d60_visits = [1, 3, 5, 7, 9, 11, 13, 15, 17, 19, 21, 23, 25, 27, 29, 31,
    33, 35, 37, 39, 41, 43, 45, 47, 49, 51, 53, 55, 57, 59, 61, 63,
    65, 67, 69, 71, 73, 75, 77, 79, 81, 83, 85, 87, 89, 91, 93, 95]
d60_resp = [0.80, 0.74, 0.915, 1.0, 0.667, 0.655, 0.395, 0.956, 0.627, 0.80, 0.334, 0.184, 0.47, 0.631, 0.387, 0.349,
    0.334, 0.499, 0.49, 0.309, 0.667, 0.75, 0.40, 0.956, 0.80, 0.615, 0.545, 0.499, 0.95, 0.832, 0.499, 0.899,
    0.75, 0.286, 0.928, 0.667, 0.913, 0.815, 0.667, 0.71, 0.771, 0.499, 0.915, 0.429, 0.286, 0.791, 0.625, 0.114]
d60_time = [0.787, 0.733, 0.83, 1.0, 0.813, 0.855, 0.611, 0.817, 0.605, 0.587, 0.274, 0.068, 0.429, 0.484, 0.417, 0.30,
    0.184, 0.499, 0.387, 0.202, 0.739, 0.58, 0.499, 0.976, 0.832, 0.731, 0.294, 0.40, 0.97, 0.877, 0.484, 0.922,
    0.79, 0.609, 0.80, 0.715, 0.995, 0.97, 0.859, 0.76, 0.70, 0.763, 0.376, 0.436, 0.937, 0.82, 0.693, 0.018]
d60_sresp = [0.851, 0.832, 0.802, 0.771, 0.745, 0.717, 0.685, 0.633, 0.599, 0.561, 0.532, 0.502, 0.469, 0.442, 0.424, 0.427,
    0.441, 0.460, 0.484, 0.520, 0.561, 0.595, 0.619, 0.641, 0.665, 0.683, 0.695, 0.700, 0.701, 0.704, 0.712, 0.727,
    0.748, 0.749, 0.749, 0.749, 0.749, 0.742, 0.731, 0.709, 0.673, 0.643, 0.605, 0.562, 0.517, 0.472, 0.429, 0.385]
d60_stime = [0.877, 0.851, 0.829, 0.80, 0.771, 0.739, 0.705, 0.647, 0.595, 0.531, 0.484, 0.441, 0.403, 0.375, 0.363, 0.369,
    0.391, 0.412, 0.442, 0.487, 0.535, 0.579, 0.613, 0.633, 0.661, 0.682, 0.696, 0.705, 0.708, 0.709, 0.721, 0.743,
    0.765, 0.787, 0.80, 0.805, 0.805, 0.796, 0.778, 0.757, 0.736, 0.713, 0.683, 0.647, 0.611, 0.576, 0.545, 0.514]
d60_obt_x = [7, 8, 18, 20, 24, 25, 26, 34, 60, 68, 74, 77, 86, 92, 94, 95]
d60_obt_y = [1.0, 0.974, 0.959, 0.94, 0.94, 0.929, 0.909, 0.885, 0.893, 0.895, 0.904, 0.90, 0.885, 0.875, 0.855, 0.855]
d60_first_visit, d60_last_visit = 1, 95

programmed_prop = 0.5

# tick labels
y_tick_vals = [0.0, 0.2, 0.4, 0.6, 0.8, 1.0]
y_tick_text = ['0.0', '0.2', '0.4', '0.6', '0.8', '1.0']

titles = ['Control', 'Saline', '0.1 mg/kg d-AMP', '0.3 mg/kg d-AMP',
          '1.0 mg/kg d-AMP', '3.0 mg/kg d-AMP', '6.0 mg/kg d-AMP']
legend_labels = ['Proportion Right Programmed Reinforcers', 'Proportion Right Responses',
                 'Proportion Right Time', 'Proportion Right Obtained Reinforcers',
                 'Smoothed (0.3 Lowess) Prop Right Resp', 'Smoothed (0.3 Lowess) Prop Right Time']
caption_lines = ['<u>Figure 7</u>. Proportion of right responses,',
                 'time, and reinforcers each visit during',
                 'no-transition sessions for control,',
                 'saline, and 0.1-6.0 mg/kg <i>d</i>-AMP']

# ======================= FIGURE =======================
for a, b in [(ctrl_resp_x, ctrl_resp_y), (ctrl_time_x, ctrl_time_y), (sal_resp_x, sal_resp_y),
             (sal_time_x, sal_time_y), (d01_resp_x, d01_resp_y), (d01_time_x, d01_time_y),
             (d03_resp_x, d03_resp_y), (d03_time_x, d03_time_y), (d10_resp_x, d10_resp_y),
             (d10_time_x, d10_time_y), (d30_resp_x, d30_resp_y), (d30_time_x, d30_time_y)]:
    assert len(a) == len(b), (len(a), len(b))

W, H = 1149, 1473
RED, BLUE, BLACK = '#ff0000', '#0000ff', '#000000'
SANS = 'Liberation Sans, Arial, sans-serif'
TICKFONT = dict(family=SANS, size=29, color='black')

# pixel boxes: (left, right, top, bottom)
LEFT_COL, RIGHT_COL = (112, 553), (594, 1035)
ROWS = [(42, 321), (399, 678), (755, 1034), (1114, 1392)]

panels = [
    dict(box=LEFT_COL + ROWS[0], side='left', xmax=600, lab=[200, 400, 600], title_xy=(318, 21),
         resp=(ctrl_resp_x, ctrl_resp_y), time=(ctrl_time_x, ctrl_time_y),
         sresp=(ctrl_sresp_x, ctrl_sresp_y), stime=(ctrl_stime_x, ctrl_stime_y),
         obt=(ctrl_obt_x, ctrl_obt_y), span=(0, ctrl_last_visit)),
    dict(box=RIGHT_COL + ROWS[0], side='right', xmax=500, lab=[200, 400], title_xy=(787, 21),
         resp=(sal_resp_x, sal_resp_y), time=(sal_time_x, sal_time_y),
         sresp=(sal_sresp_x, sal_sresp_y), stime=(sal_stime_x, sal_stime_y),
         obt=(sal_obt_x, sal_obt_y), span=(0, sal_last_visit)),
    dict(box=LEFT_COL + ROWS[1], side='left', xmax=600, lab=[200, 400, 600], title_xy=(294, 379),
         resp=(d01_resp_x, d01_resp_y), time=(d01_time_x, d01_time_y),
         sresp=(d01_sresp_x, d01_sresp_y), stime=(d01_stime_x, d01_stime_y),
         obt=(d01_obt_x, d01_obt_y), span=(0, d01_last_visit)),
    dict(box=RIGHT_COL + ROWS[1], side='right', xmax=600, lab=[200, 400], title_xy=(786, 379),
         resp=(d03_resp_x, d03_resp_y), time=(d03_time_x, d03_time_y),
         sresp=(d03_sresp_x, d03_sresp_y), stime=(d03_stime_x, d03_stime_y),
         obt=(d03_obt_x, d03_obt_y), span=(0, d03_last_visit)),
    dict(box=LEFT_COL + ROWS[2], side='left', xmax=500, lab=[200, 400], title_xy=(314, 736),
         resp=(d10_resp_x, d10_resp_y), time=(d10_time_x, d10_time_y),
         sresp=(d10_sresp_x, d10_sresp_y), stime=(d10_stime_x, d10_stime_y),
         obt=(d10_obt_x, d10_obt_y), span=(0, d10_last_visit)),
    dict(box=RIGHT_COL + ROWS[2], side='right', xmax=700, lab=[200, 400, 600], title_xy=(796, 736),
         resp=(d30_resp_x, d30_resp_y), time=(d30_time_x, d30_time_y),
         sresp=(d30_sresp_x, d30_sresp_y), stime=(d30_stime_x, d30_stime_y),
         obt=(d30_obt_x, d30_obt_y), span=(0, d30_last_visit)),
    dict(box=(120, 562) + ROWS[3], side='left', xmax=100, lab=[50, 100], title_xy=(318, 1095),
         resp=(d60_visits, d60_resp), time=(d60_visits, d60_time),
         sresp=(d60_visits, d60_sresp), stime=(d60_visits, d60_stime),
         obt=(d60_obt_x, d60_obt_y), span=(d60_first_visit, d60_last_visit)),
]

fig = go.Figure()
layout = dict(width=W, height=H, margin=dict(l=0, r=0, t=0, b=0),
              paper_bgcolor='white', plot_bgcolor='white', showlegend=False)
annotations = []


def add(tr):
    tr.update(showlegend=False, hoverinfo='skip')
    fig.add_trace(tr)


for i, p in enumerate(panels, start=1):
    sfx = '' if i == 1 else str(i)
    xa, ya = 'x' + sfx, 'y' + sfx
    left, right, top, bottom = p['box']
    small = p['xmax'] == 100
    step = 50 if small else 100
    tv = list(range(0, p['xmax'] + 1, step))
    tt = [str(v) if v in p['lab'] else '' for v in tv]
    layout['xaxis' + sfx] = dict(domain=[left / W, right / W], range=[0, p['xmax']], anchor=ya,
                                 showline=True, linecolor='black', linewidth=1, mirror=False,
                                 ticks='outside', ticklen=5, tickcolor='black', tickwidth=1,
                                 tickvals=tv, ticktext=tt, tickfont=TICKFONT, ticklabelstandoff=-10,
                                 showgrid=False, zeroline=False, fixedrange=True)
    layout['yaxis' + sfx] = dict(domain=[1 - bottom / H, 1 - top / H], range=[0, 1], anchor=xa,
                                 side=p['side'], showline=True, linecolor='black', linewidth=1,
                                 mirror='ticks', ticks='outside', ticklen=5, tickcolor='black',
                                 tickwidth=1, tickvals=y_tick_vals, ticktext=y_tick_text,
                                 tickfont=TICKFONT, showgrid=False, zeroline=False, fixedrange=True,
                                 ticklabelstandoff=(7 if p['side'] == 'left' else -3))

    # programmed reinforcer proportion (double line)
    px = [p['span'][0], p['span'][1]]
    py = [programmed_prop, programmed_prop]
    add(go.Scatter(x=px, y=py, xaxis=xa, yaxis=ya, mode='lines',
                   line=dict(color='#333333', width=4.2)))
    add(go.Scatter(x=px, y=py, xaxis=xa, yaxis=ya, mode='lines',
                   line=dict(color='#d8d8d8', width=1.4)))

    # raw points
    add(go.Scatter(x=p['resp'][0], y=p['resp'][1], xaxis=xa, yaxis=ya, mode='markers',
                   cliponaxis=False,
                   marker=dict(symbol='circle-open', size=6.5, color=RED, line=dict(color=RED, width=1.4))))
    add(go.Scatter(x=p['time'][0], y=p['time'][1], xaxis=xa, yaxis=ya, mode='markers',
                   cliponaxis=False,
                   marker=dict(symbol='circle', size=6.8, color=BLUE, line=dict(width=0))))

    if small:
        add(go.Scatter(x=p['obt'][0], y=p['obt'][1], xaxis=xa, yaxis=ya, mode='lines',
                       cliponaxis=False, line=dict(color=BLACK, width=3.6, shape='hv', dash='4px,3px')))
        add(go.Scatter(x=p['sresp'][0], y=p['sresp'][1], xaxis=xa, yaxis=ya, mode='lines+markers',
                       cliponaxis=False, line=dict(color=RED, width=1.3),
                       marker=dict(size=6.8, color=RED)))
        add(go.Scatter(x=p['stime'][0], y=p['stime'][1], xaxis=xa, yaxis=ya, mode='lines+markers',
                       cliponaxis=False, line=dict(color=BLUE, width=1.3),
                       marker=dict(size=6.8, color=BLUE)))
    else:
        add(go.Scatter(x=p['obt'][0], y=p['obt'][1], xaxis=xa, yaxis=ya, mode='lines',
                       line=dict(color=BLACK, width=4, shape='hv')))
        add(go.Scatter(x=p['sresp'][0], y=p['sresp'][1], xaxis=xa, yaxis=ya, mode='lines',
                       line=dict(color=RED, width=5.5, shape='spline', smoothing=1.0)))
        add(go.Scatter(x=p['stime'][0], y=p['stime'][1], xaxis=xa, yaxis=ya, mode='lines',
                       line=dict(color=BLUE, width=5.5, shape='spline', smoothing=1.0)))

    tx, ty = p['title_xy']
    annotations.append(dict(text=titles[i - 1], x=tx / W, y=1 - ty / H, xref='paper', yref='paper',
                            xanchor='center', yanchor='middle', showarrow=False,
                            font=dict(family=SANS, size=30, color='black')))

# ---------------- legend (drawn in a pixel-scaled helper axis) ----------------
LEG_X0, LEG_X1, LEG_Y0, LEG_Y1 = 595, 655, 1100, 1300
layout['xaxis8'] = dict(domain=[LEG_X0 / W, LEG_X1 / W], range=[LEG_X0, LEG_X1], anchor='y8',
                        visible=False, fixedrange=True)
layout['yaxis8'] = dict(domain=[1 - LEG_Y1 / H, 1 - LEG_Y0 / H], range=[LEG_Y1, LEG_Y0], anchor='x8',
                        visible=False, fixedrange=True)
leg_rows = [1122, 1153, 1185, 1215, 1246, 1277]
sw_x0, sw_x1, sw_mid = 606, 645, 625
wave_dx = [0, 5, 10, 15, 20, 25, 30, 35, 39]
wave_dy = [2, -2, -4, -2, 2, 5, 4, 0, -3]
zig_dx = [0, 4, 8, 12, 16, 20, 24, 28, 32, 36, 39]
zig_dy = [4, 0, 3, -1, 3, -1, 2, -2, 2, -2, -3]

add(go.Scatter(x=[sw_x0, sw_x1], y=[leg_rows[0]] * 2, xaxis='x8', yaxis='y8', mode='lines',
               line=dict(color='#222222', width=4.2)))
add(go.Scatter(x=[sw_x0, sw_x1], y=[leg_rows[0]] * 2, xaxis='x8', yaxis='y8', mode='lines',
               line=dict(color='white', width=1.4)))
add(go.Scatter(x=[sw_mid], y=[leg_rows[1]], xaxis='x8', yaxis='y8', mode='markers',
               marker=dict(symbol='circle-open', size=6, color=RED, line=dict(color=RED, width=2))))
add(go.Scatter(x=[sw_mid], y=[leg_rows[2] + 3], xaxis='x8', yaxis='y8', mode='markers',
               marker=dict(symbol='circle', size=4.5, color=BLUE)))
add(go.Scatter(x=[sw_x0 + d for d in zig_dx], y=[leg_rows[3] + d for d in zig_dy], xaxis='x8', yaxis='y8',
               mode='lines', line=dict(color=BLACK, width=2.2)))
add(go.Scatter(x=[sw_x0 + d for d in wave_dx], y=[leg_rows[4] + d for d in wave_dy], xaxis='x8', yaxis='y8',
               mode='lines', line=dict(color=RED, width=4.5, shape='spline')))
add(go.Scatter(x=[sw_x0 + d for d in wave_dx], y=[leg_rows[5] + d for d in wave_dy], xaxis='x8', yaxis='y8',
               mode='lines', line=dict(color=BLUE, width=4.5, shape='spline')))

SERIF = 'Liberation Serif, Times New Roman, serif'
for lab, yy in zip(legend_labels, leg_rows):
    annotations.append(dict(text=lab, x=657 / W, y=1 - yy / H, xref='paper', yref='paper',
                            xanchor='left', yanchor='middle', showarrow=False,
                            font=dict(family=SERIF, size=25.5, color='black')))

for k, line in enumerate(caption_lines):
    yy = 1351 + k * 36.5
    annotations.append(dict(text=line, x=606 / W, y=1 - yy / H, xref='paper', yref='paper',
                            xanchor='left', yanchor='middle', showarrow=False,
                            font=dict(family=SERIF, size=31, color='black')))

# axis titles
MONO = 'Liberation Mono, Courier New, monospace'
annotations.append(dict(text='<b>Proportion of Right Responses, Time, and Reinforcers</b>',
                        x=22 / W, y=1 - 712 / H, xref='paper', yref='paper', textangle=-90,
                        xanchor='center', yanchor='middle', showarrow=False,
                        font=dict(family=MONO, size=29, color='black')))
annotations.append(dict(text='<b>Programmed Proportion of Right Reinforcers</b>',
                        x=1125 / W, y=1 - 668 / H, xref='paper', yref='paper', textangle=90,
                        xanchor='center', yanchor='middle', showarrow=False,
                        font=dict(family=MONO, size=29, color='black')))
annotations.append(dict(text='<b>Visits</b>', x=334 / W, y=1 - 1462 / H, xref='paper', yref='paper',
                        xanchor='center', yanchor='middle', showarrow=False,
                        font=dict(family=MONO, size=28, color='black')))

layout['annotations'] = annotations
fig.update_layout(**layout)
fig.write_html('out.html')
